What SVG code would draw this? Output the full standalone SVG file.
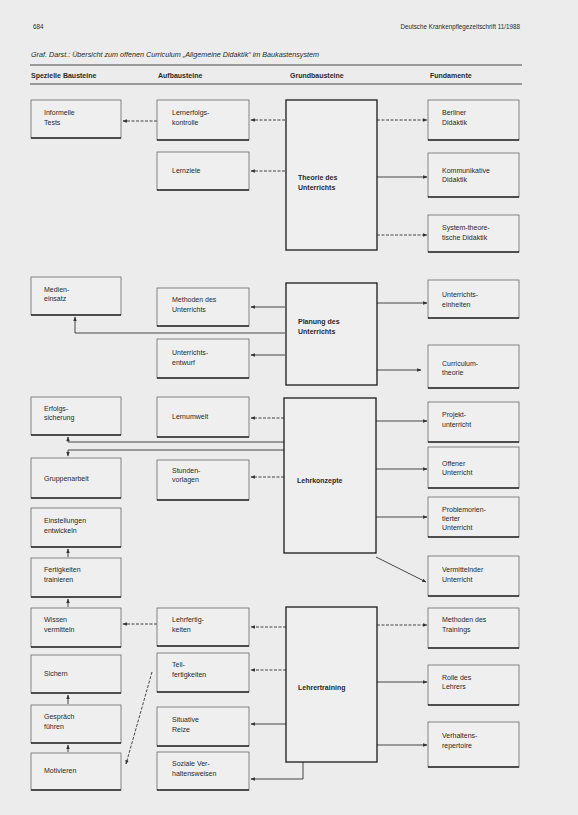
<svg xmlns="http://www.w3.org/2000/svg" width="578" height="815" viewBox="0 0 578 815">
<defs>
<style>
text{font-family:"Liberation Sans",Arial,sans-serif;fill:#2a2a2a;font-size:7px}
.hd{font-size:7px;font-weight:bold}
.ti{font-size:7.2px;font-style:italic}
.sm{font-size:6.3px}
.b rect{fill:#efefef;stroke:#6a6a6a;stroke-width:0.8}
.b line{stroke:#2a2a2a;stroke-width:1.5}
.g rect{fill:#efefef;stroke:#1a1a1a;stroke-width:1.3}
.g text{font-weight:bold}
.c line,.c path{stroke:#333;stroke-width:0.9;fill:none}
.c .d{stroke-dasharray:3 1.5}
.rule{stroke:#333;stroke-width:0.9}
</style>
<marker id="a" viewBox="0 0 8 8" refX="7" refY="4" markerWidth="5" markerHeight="5" orient="auto"><path d="M0,1 L8,4 L0,7 z" fill="#333"/></marker>
</defs>
<rect width="578" height="815" fill="#ececec"/>
<text x="33" y="29" class="sm">684</text>
<text x="520" y="29" class="sm" text-anchor="end">Deutsche Krankenpflegezeitschrift 11/1988</text>
<text x="31" y="57" class="ti">Graf. Darst.: Übersicht zum offenen Curriculum „Allgemeine Didaktik“ im Baukastensystem</text>
<line class="rule" x1="30" y1="65" x2="522" y2="65"/>
<text x="31" y="78" class="hd">Spezielle Bausteine</text>
<text x="158" y="78" class="hd">Aufbausteine</text>
<text x="290" y="78" class="hd">Grundbausteine</text>
<text x="430" y="78" class="hd">Fundamente</text>
<line class="rule" x1="30" y1="84" x2="522" y2="84"/>

<g id="connectors" class="c">
<line class="d" x1="285" y1="120" x2="251" y2="120" marker-end="url(#a)"/>
<line class="d" x1="285" y1="171" x2="251" y2="171" marker-end="url(#a)"/>
<line class="d" x1="157" y1="121" x2="123" y2="121" marker-end="url(#a)"/>
<line class="d" x1="377" y1="120" x2="427" y2="120" marker-end="url(#a)"/>
<line x1="377" y1="177" x2="427" y2="177" marker-end="url(#a)"/>
<line class="d" x1="377" y1="235" x2="427" y2="235" marker-end="url(#a)"/>
<line x1="285" y1="307" x2="251" y2="307" marker-end="url(#a)"/>
<line x1="285" y1="355" x2="251" y2="355" marker-end="url(#a)"/>
<path d="M285,333 H75 V317" marker-end="url(#a)"/>
<line x1="377" y1="303" x2="427" y2="303" marker-end="url(#a)"/>
<line x1="377" y1="370" x2="421" y2="370" marker-end="url(#a)"/>
<line class="d" x1="284" y1="418" x2="251" y2="418" marker-end="url(#a)"/>
<line class="d" x1="284" y1="477" x2="251" y2="477" marker-end="url(#a)"/>
<path d="M284,442 H68 V437" marker-end="url(#a)"/>
<path d="M284,450 H68 V456" marker-end="url(#a)"/>
<line x1="68" y1="557" x2="68" y2="549" marker-end="url(#a)"/>
<line x1="68" y1="607" x2="68" y2="599" marker-end="url(#a)"/>
<line x1="68" y1="704" x2="68" y2="695" marker-end="url(#a)"/>
<line x1="68" y1="752" x2="68" y2="745" marker-end="url(#a)"/>
<line x1="376" y1="421" x2="427" y2="421" marker-end="url(#a)"/>
<line x1="376" y1="469" x2="427" y2="469" marker-end="url(#a)"/>
<line x1="376" y1="517" x2="427" y2="517" marker-end="url(#a)"/>
<line x1="376" y1="557" x2="426" y2="582" marker-end="url(#a)"/>
<line class="d" x1="286" y1="627" x2="251" y2="627" marker-end="url(#a)"/>
<line class="d" x1="286" y1="670" x2="251" y2="670" marker-end="url(#a)"/>
<line x1="286" y1="724" x2="251" y2="724" marker-end="url(#a)"/>
<path d="M303,762 V779 H251" marker-end="url(#a)"/>
<line class="d" x1="157" y1="624" x2="123" y2="624" marker-end="url(#a)"/>
<line class="d" x1="152" y1="672" x2="126" y2="764" marker-end="url(#a)"/>
<line class="d" x1="377" y1="625" x2="427" y2="625" marker-end="url(#a)"/>
<line x1="377" y1="682" x2="427" y2="682" marker-end="url(#a)"/>
<line x1="377" y1="745" x2="427" y2="745" marker-end="url(#a)"/>
</g>

<!-- Spezielle Bausteine -->
<g id="informelle-tests" class="b"><rect x="31" y="100" width="90" height="38"/><line x1="31" y1="138" x2="121" y2="138"/><text x="44" y="115">Informelle</text><text x="44" y="125">Tests</text></g>
<g id="medieneinsatz" class="b"><rect x="31" y="277" width="90" height="38"/><line x1="31" y1="315" x2="121" y2="315"/><text x="44" y="292">Medien-</text><text x="44" y="301">einsatz</text></g>
<g id="erfolgssicherung" class="b"><rect x="31" y="397" width="90" height="38"/><line x1="31" y1="435" x2="121" y2="435"/><text x="44" y="411">Erfolgs-</text><text x="44" y="420">sicherung</text></g>
<g id="gruppenarbeit" class="b"><rect x="31" y="458" width="90" height="40"/><line x1="31" y1="498" x2="121" y2="498"/><text x="44" y="481">Gruppenarbeit</text></g>
<g id="einstellungen" class="b"><rect x="31" y="508" width="90" height="39"/><line x1="31" y1="547" x2="121" y2="547"/><text x="44" y="523">Einstellungen</text><text x="44" y="533">entwickeln</text></g>
<g id="fertigkeiten" class="b"><rect x="31" y="558" width="90" height="39"/><line x1="31" y1="597" x2="121" y2="597"/><text x="44" y="572">Fertigkeiten</text><text x="44" y="582">trainieren</text></g>
<g id="wissen" class="b"><rect x="31" y="608" width="90" height="39"/><line x1="31" y1="647" x2="121" y2="647"/><text x="44" y="622">Wissen</text><text x="44" y="632">vermitteln</text></g>
<g id="sichern" class="b"><rect x="31" y="655" width="90" height="38"/><line x1="31" y1="693" x2="121" y2="693"/><text x="44" y="676">Sichern</text></g>
<g id="gespraech" class="b"><rect x="31" y="705" width="90" height="38"/><line x1="31" y1="743" x2="121" y2="743"/><text x="44" y="719">Gespräch</text><text x="44" y="729">führen</text></g>
<g id="motivieren" class="b"><rect x="31" y="753" width="90" height="37"/><line x1="31" y1="790" x2="121" y2="790"/><text x="44" y="773">Motivieren</text></g>

<!-- Aufbausteine -->
<g id="lernerfolgskontrolle" class="b"><rect x="157" y="100" width="92" height="40"/><line x1="157" y1="140" x2="249" y2="140"/><text x="172" y="115">Lernerfolgs-</text><text x="172" y="125">kontrolle</text></g>
<g id="lernziele" class="b"><rect x="157" y="152" width="92" height="38"/><line x1="157" y1="190" x2="249" y2="190"/><text x="172" y="173">Lernziele</text></g>
<g id="methoden-unterricht" class="b"><rect x="157" y="288" width="92" height="38"/><line x1="157" y1="326" x2="249" y2="326"/><text x="172" y="302">Methoden des</text><text x="172" y="312">Unterrichts</text></g>
<g id="unterrichtsentwurf" class="b"><rect x="157" y="339" width="92" height="39"/><line x1="157" y1="378" x2="249" y2="378"/><text x="172" y="355">Unterrichts-</text><text x="172" y="365">entwurf</text></g>
<g id="lernumwelt" class="b"><rect x="157" y="397" width="92" height="40"/><line x1="157" y1="437" x2="249" y2="437"/><text x="172" y="419">Lernumwelt</text></g>
<g id="stunden" class="b"><rect x="157" y="460" width="92" height="40"/><line x1="157" y1="500" x2="249" y2="500"/><text x="172" y="473">Stunden-</text><text x="172" y="482">vorlagen</text></g>
<g id="lehrfertigkeiten" class="b"><rect x="157" y="608" width="92" height="38"/><line x1="157" y1="646" x2="249" y2="646"/><text x="172" y="622">Lehrfertig-</text><text x="172" y="632">keiten</text></g>
<g id="teilfertigkeiten" class="b"><rect x="157" y="653" width="92" height="39"/><line x1="157" y1="692" x2="249" y2="692"/><text x="172" y="667">Teil-</text><text x="172" y="677">fertigkeiten</text></g>
<g id="situative-reize" class="b"><rect x="157" y="707" width="92" height="39"/><line x1="157" y1="746" x2="249" y2="746"/><text x="172" y="722">Situative</text><text x="172" y="732">Reize</text></g>
<g id="soziale-verhaltensweisen" class="b"><rect x="157" y="752" width="92" height="38"/><line x1="157" y1="790" x2="249" y2="790"/><text x="172" y="766">Soziale Ver-</text><text x="172" y="776">haltensweisen</text></g>

<!-- Grundbausteine -->
<g id="theorie" class="g"><rect x="286" y="100" width="91" height="150"/><text x="298" y="180">Theorie des</text><text x="298" y="190">Unterrichts</text></g>
<g id="planung" class="g"><rect x="286" y="283" width="91" height="102"/><text x="298" y="324">Planung des</text><text x="298" y="334">Unterrichts</text></g>
<g id="lehrkonzepte" class="g"><rect x="284" y="398" width="92" height="155"/><text x="297" y="483">Lehrkonzepte</text></g>
<g id="lehrertraining" class="g"><rect x="286" y="607" width="91" height="155"/><text x="298" y="690">Lehrertraining</text></g>

<!-- Fundamente -->
<g id="berliner" class="b"><rect x="428" y="100" width="91" height="40"/><line x1="428" y1="140" x2="519" y2="140"/><text x="442" y="115">Berliner</text><text x="442" y="125">Didaktik</text></g>
<g id="kommunikative" class="b"><rect x="428" y="153" width="91" height="44"/><line x1="428" y1="197" x2="519" y2="197"/><text x="442" y="173">Kommunikative</text><text x="442" y="182">Didaktik</text></g>
<g id="systemtheoretische" class="b"><rect x="428" y="215" width="91" height="37"/><line x1="428" y1="252" x2="519" y2="252"/><text x="442" y="230">System-theore-</text><text x="442" y="240">tische Didaktik</text></g>
<g id="unterrichtseinheiten" class="b"><rect x="428" y="280" width="91" height="38"/><line x1="428" y1="318" x2="519" y2="318"/><text x="442" y="297">Unterrichts-</text><text x="442" y="307">einheiten</text></g>
<g id="curriculumtheorie" class="b"><rect x="428" y="345" width="91" height="43"/><line x1="428" y1="388" x2="519" y2="388"/><text x="442" y="366">Curriculum-</text><text x="442" y="375">theorie</text></g>
<g id="projektunterricht" class="b"><rect x="428" y="402" width="91" height="40"/><line x1="428" y1="442" x2="519" y2="442"/><text x="442" y="417">Projekt-</text><text x="442" y="427">unterricht</text></g>
<g id="offener" class="b"><rect x="428" y="447" width="91" height="41"/><line x1="428" y1="488" x2="519" y2="488"/><text x="442" y="466">Offener</text><text x="442" y="475">Unterricht</text></g>
<g id="problemorientierter" class="b"><rect x="428" y="497" width="91" height="40"/><line x1="428" y1="537" x2="519" y2="537"/><text x="442" y="512">Problemorien-</text><text x="442" y="521">tierter</text><text x="442" y="530">Unterricht</text></g>
<g id="vermittelnder" class="b"><rect x="428" y="556" width="91" height="40"/><line x1="428" y1="596" x2="519" y2="596"/><text x="442" y="572">Vermittelnder</text><text x="442" y="582">Unterricht</text></g>
<g id="methoden-training" class="b"><rect x="428" y="608" width="91" height="40"/><line x1="428" y1="648" x2="519" y2="648"/><text x="442" y="622">Methoden des</text><text x="442" y="632">Trainings</text></g>
<g id="rolle" class="b"><rect x="428" y="665" width="91" height="40"/><line x1="428" y1="705" x2="519" y2="705"/><text x="442" y="680">Rolle des</text><text x="442" y="689">Lehrers</text></g>
<g id="verhaltensrepertoire" class="b"><rect x="428" y="722" width="91" height="45"/><line x1="428" y1="767" x2="519" y2="767"/><text x="442" y="738">Verhaltens-</text><text x="442" y="748">repertoire</text></g>
</svg>
